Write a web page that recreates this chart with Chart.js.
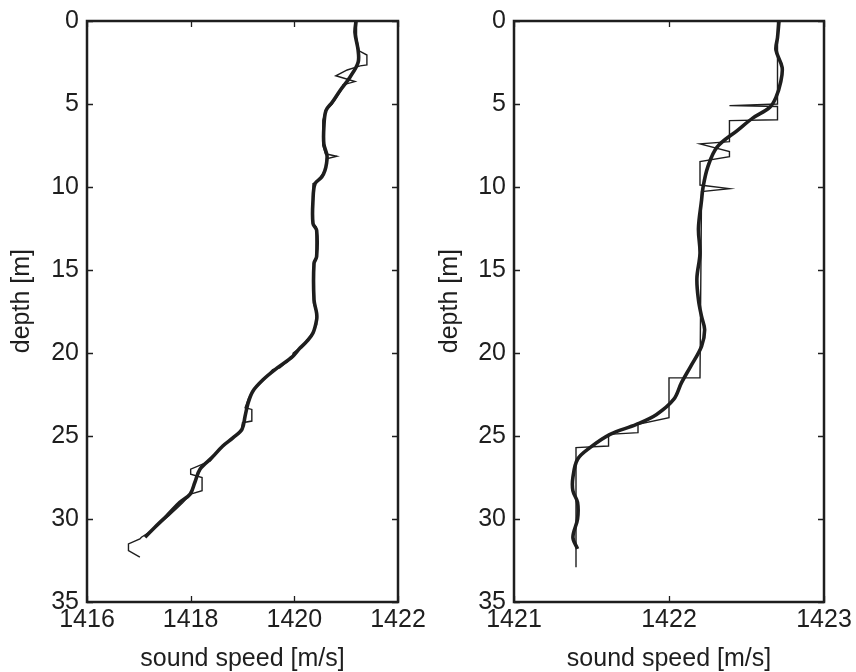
<!DOCTYPE html>
<html>
<head>
<meta charset="utf-8">
<script src="https://cdn.jsdelivr.net/npm/chart.js@4/dist/chart.umd.min.js"></script>
<style>
  html, body { margin: 0; padding: 0; background: #fff; }
  #wrap { position: relative; width: 856px; height: 672px; }
  .panel { position: absolute; top: 0; width: 428px; height: 672px; }
  #left { left: 0; }
  #right { left: 428px; }
</style>
</head>
<body>
<div id="wrap">
  <div class="panel" id="left"><canvas id="c1" width="428" height="672"></canvas></div>
  <div class="panel" id="right"><canvas id="c2" width="428" height="672"></canvas></div>
</div>
<script>
// ---- data ----
const depthTicks = [0, 5, 10, 15, 20, 25, 30, 35];
const leftSpeedTicks = [1416, 1418, 1420, 1422];
const rightSpeedTicks = [1421, 1422, 1423];

// left profile: raw CTD trace (thin)
const leftRawDepth = [0, 1.0, 1.8, 2.05, 2.65, 2.7, 2.95, 3.3, 3.65, 3.85, 4.2, 5.0, 5.4, 6.0, 7.5, 8.0, 8.15, 8.3,
  9.0, 9.4, 9.7, 9.8, 12.2, 12.4, 14.3, 14.5, 17.0, 17.6, 18.3, 18.9, 19.3, 19.6, 20.0, 20.3, 20.9, 21.0, 21.6,
  22.2, 22.7, 23.3, 23.4, 24.1, 24.2, 24.6, 25.0, 25.5, 26.0, 26.5, 27.0, 27.3, 27.5, 28.3, 28.5, 29.0, 29.3,
  29.8, 30.4, 30.8, 31.1, 31.2, 31.5, 31.9, 32.3];
const leftRawSpeed = [1421.2, 1421.2, 1421.25, 1421.4, 1421.4, 1421.27, 1421.02, 1420.8, 1421.17, 1420.94, 1420.9,
  1420.73, 1420.6, 1420.55, 1420.55, 1420.6, 1420.82, 1420.62, 1420.6, 1420.5, 1420.42, 1420.36, 1420.36, 1420.42,
  1420.42, 1420.37, 1420.37, 1420.43, 1420.43, 1420.33, 1420.22, 1420.15, 1419.98, 1419.95, 1419.72, 1419.58,
  1419.42, 1419.22, 1419.12, 1419.05, 1419.18, 1419.18, 1419.0, 1418.98, 1418.85, 1418.65, 1418.5, 1418.38,
  1418.0, 1418.0, 1418.22, 1418.22, 1418.0, 1417.85, 1417.75, 1417.58, 1417.35, 1417.2, 1417.05, 1417.02,
  1416.8, 1416.8, 1417.02];

// left profile: smoothed (thick)
const leftSmoothDepth = [0, 0.7, 1.75, 2.5, 3.4, 4.2, 4.9, 5.4, 6.4, 7.4, 8.1, 8.6, 9.0, 9.4, 9.8, 10.8, 12.2,
  12.6, 14.2, 14.6, 16.8, 17.6, 18.0, 18.8, 19.3, 19.7, 20.2, 20.9, 21.6, 22.3, 23.0, 23.8, 24.6, 25.1, 25.6,
  26.3, 27.0, 27.8, 28.5, 29.0, 29.8, 30.5, 31.1];
const leftSmoothSpeed = [1421.19, 1421.17, 1421.23, 1421.23, 1421.07, 1420.88, 1420.73, 1420.61, 1420.57,
  1420.57, 1420.63, 1420.62, 1420.59, 1420.53, 1420.4, 1420.36, 1420.36, 1420.43, 1420.43, 1420.38, 1420.38,
  1420.43, 1420.43, 1420.36, 1420.24, 1420.11, 1419.97, 1419.67, 1419.4, 1419.2, 1419.11, 1419.05, 1418.99,
  1418.82, 1418.62, 1418.41, 1418.18, 1418.08, 1417.99, 1417.79, 1417.54, 1417.31, 1417.12];

// right profile: raw (thin)
const rightRawDepth = [0, 5.0, 5.1, 5.15, 5.95, 6.0, 7.27, 7.4, 7.87, 8.17, 8.47, 9.88, 10.1, 10.28, 21.5, 21.5,
  23.9, 24.3, 24.8, 24.9, 25.6, 25.7, 32.9];
const rightRawSpeed = [1422.7, 1422.7, 1422.39, 1422.7, 1422.7, 1422.39, 1422.39, 1422.2, 1422.39, 1422.39,
  1422.2, 1422.2, 1422.39, 1422.21, 1422.2, 1422.0, 1422.0, 1421.8, 1421.8, 1421.61, 1421.61, 1421.4, 1421.4];

// right profile: smoothed (thick)
const rightSmoothDepth = [0, 1.0, 1.75, 2.8, 3.7, 4.6, 5.2, 5.85, 6.6, 7.6, 8.8, 10.0, 10.8, 12.5, 14.0, 15.5,
  16.8, 17.8, 18.6, 19.6, 20.8, 21.8, 22.8, 23.7, 24.3, 24.9, 25.7, 26.4, 27.5, 28.3, 29.0, 30.0, 31.1, 31.8];
const rightSmoothSpeed = [1422.71, 1422.7, 1422.69, 1422.73, 1422.72, 1422.69, 1422.65, 1422.54, 1422.44,
  1422.31, 1422.25, 1422.22, 1422.21, 1422.19, 1422.2, 1422.18, 1422.19, 1422.21, 1422.23, 1422.21, 1422.14,
  1422.08, 1422.03, 1421.92, 1421.79, 1421.62, 1421.49, 1421.41, 1421.38, 1421.38, 1421.41, 1421.41, 1421.38,
  1421.41];

// ---- drawing ----
const INK = "#1e1e1e";
const FONT = { family: "'Liberation Sans', Arial, Helvetica, sans-serif", size: 25, lineHeight: 1 };

function zip(speed, depth) {
  return speed.map((s, i) => ({ x: s, y: depth[i] }));
}

// MATLAB-like box with inward tick marks on all four sides
const boxTicks = {
  id: "boxTicks",
  afterDraw(chart) {
    const { ctx, chartArea: a, scales: { x, y } } = chart;
    ctx.save();
    ctx.strokeStyle = INK;
    ctx.lineWidth = 1.3;
    ctx.beginPath();
    x.ticks.forEach((t) => {
      const px = Math.round(x.getPixelForValue(t.value)) + 0.5;
      ctx.moveTo(px, a.bottom); ctx.lineTo(px, a.bottom - 6);
      ctx.moveTo(px, a.top); ctx.lineTo(px, a.top + 6);
    });
    y.ticks.forEach((t) => {
      const py = Math.round(y.getPixelForValue(t.value)) + 0.5;
      ctx.moveTo(a.left, py); ctx.lineTo(a.left + 6, py);
      ctx.moveTo(a.right, py); ctx.lineTo(a.right - 6, py);
    });
    ctx.stroke();
    ctx.lineWidth = 2.5;
    ctx.strokeRect(a.left, a.top, a.right - a.left, a.bottom - a.top);
    ctx.restore();
  },
};

function makeProfile(canvas, raw, smooth, speedTicks, { yWidth, rightPad }) {
  return new Chart(canvas, {
    type: "scatter",
    data: {
      datasets: [
        { data: raw, showLine: true, borderColor: INK, borderWidth: 1.4, pointRadius: 0, tension: 0 },
        { data: smooth, showLine: true, borderColor: INK, borderWidth: 3.6, pointRadius: 0, tension: 0.35 },
      ],
    },
    options: {
      responsive: false,
      devicePixelRatio: 1,
      animation: false,
      layout: { padding: { top: 21, right: rightPad, bottom: 0, left: 0 } },
      plugins: { legend: { display: false }, tooltip: { enabled: false } },
      scales: {
        x: {
          type: "linear",
          min: speedTicks[0],
          max: speedTicks[speedTicks.length - 1],
          afterBuildTicks: (s) => { s.ticks = speedTicks.map((v) => ({ value: v })); },
          afterFit: (s) => { s.height = 70; s.paddingLeft = 0; s.paddingRight = 0; },
          ticks: { font: FONT, color: INK, padding: 6, maxRotation: 0, autoSkip: false, callback: (v) => String(v) },
          grid: { display: false, drawTicks: false },
          border: { display: false },
          title: { display: true, text: "sound speed [m/s]", font: FONT, color: INK, padding: 0 },
        },
        y: {
          type: "linear",
          reverse: true,
          min: 0,
          max: 35,
          afterBuildTicks: (s) => { s.ticks = depthTicks.map((v) => ({ value: v })); },
          afterFit: (s) => { s.width = yWidth; },
          ticks: { font: FONT, color: INK, padding: 8, autoSkip: false, callback: (v) => String(v) },
          grid: { display: false, drawTicks: false },
          border: { display: false },
          title: { display: true, text: "   depth [m]", font: FONT, color: INK, padding: { top: 10, bottom: 0 } },
        },
      },
    },
    plugins: [boxTicks],
  });
}

makeProfile(document.getElementById("c1"), zip(leftRawSpeed, leftRawDepth), zip(leftSmoothSpeed, leftSmoothDepth),
  leftSpeedTicks, { yWidth: 87, rightPad: 30 });
makeProfile(document.getElementById("c2"), zip(rightRawSpeed, rightRawDepth), zip(rightSmoothSpeed, rightSmoothDepth),
  rightSpeedTicks, { yWidth: 86, rightPad: 32 });
</script>
</body>
</html>
